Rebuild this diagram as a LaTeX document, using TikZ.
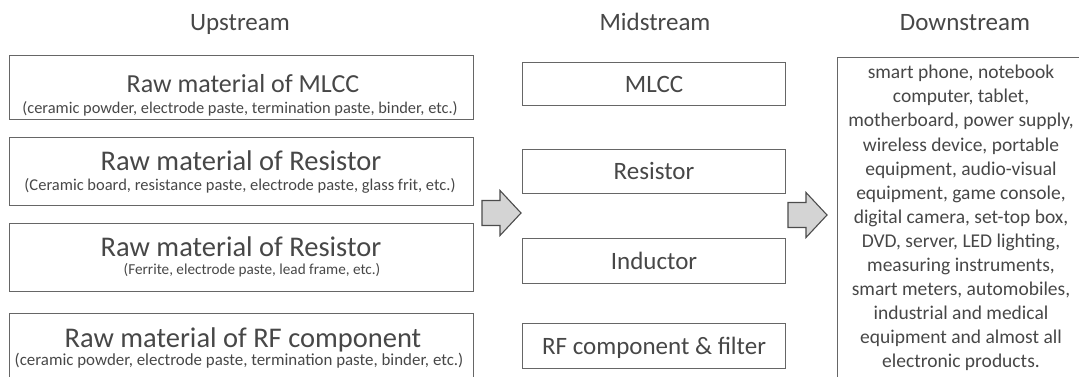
\documentclass[tikz,border=0pt]{standalone}
\usepackage{fontspec}
\setmainfont{Carlito}
\newcommand{\fs}[1]{\fontsize{#1}{#1}\selectfont}
\begin{document}
\begin{tikzpicture}[x=1pt,y=-1pt,
  every node/.style={text=black!72},
  frame/.style={draw=black!60, line width=1.1pt, inner sep=0pt, anchor=north west},
  head/.style={anchor=base, font=\fs{25}},
  ttl/.style={anchor=base, font=\fs{28.5}},
  sub/.style={anchor=base, font=\fs{16.4}},
  mid/.style={frame, font=\fs{25}, text height=16pt, text depth=0pt},
  blockarrow/.style={draw=black!70, line width=1.1pt, fill=black!17, line join=miter}
]
\useasboundingbox (0,0) rectangle (1079,376);
\clip (0,0) rectangle (1079,376);

% column headings
\node[head] (hup)   at (240,30) {Upstream};
\node[head] (hmid)  at (655,30) {Midstream};
\node[head] (hdown) at (965,30) {Downstream};

% upstream: raw materials
\node[frame, minimum width=464, minimum height=64] (u1) at (9,55) {};
\node[ttl, font=\fs{26}] (u1t) at (243,92) {Raw material of MLCC};
\node[sub] (u1s) at (240,113) {(ceramic powder, electrode paste, termination paste, binder, etc.)};

\node[frame, minimum width=464, minimum height=68] (u2) at (9,137) {};
\node[ttl] (u2t) at (241,170) {Raw material of Resistor};
\node[sub, font=\fs{16.5}] (u2s) at (240,190) {(Ceramic board, resistance paste, electrode paste, glass frit, etc.)};

\node[frame, minimum width=464, minimum height=68] (u3) at (9,223) {};
\node[ttl] (u3t) at (241,256) {Raw material of Resistor};
\node[sub, font=\fs{15.2}] (u3s) at (252,274) {(Ferrite, electrode paste, lead frame, etc.)};

\node[frame, minimum width=464, minimum height=70] (u4) at (9,313) {};
\node[ttl] (u4t) at (243,347) {Raw material of RF component};
\node[sub, font=\fs{16.9}] (u4s) at (239,365) {(ceramic powder, electrode paste, termination paste, binder, etc.)};

% midstream: components
\node[mid, minimum width=263, minimum height=43] (m1) at (522,62) {MLCC};
\node[mid, minimum width=263, minimum height=44] (m2) at (522,149) {Resistor};
\node[mid, minimum width=263, minimum height=45] (m3) at (522,238) {Inductor};
\node[mid, minimum width=263, minimum height=45] (m4) at (522,323) {RF component \& filter};

% downstream: applications
\node[frame, minimum width=253, minimum height=330] (d1) at (837,57) {};
\node[anchor=north, align=center, inner sep=0pt,
      font=\fontsize{19.5}{24.1}\selectfont] (d1t) at (961,65)
  {smart phone, notebook\\ computer, tablet,\\ motherboard, power supply,\\
   wireless device, portable\\ equipment, audio-visual\\ equipment, game console,\\
   digital camera, set-top box,\\ DVD, server, LED lighting,\\ measuring instruments,\\
   smart meters, automobiles,\\ industrial and medical\\ equipment and almost all\\
   electronic products.};

% block arrows between the columns
\begin{scope}[shift={(482,213)}]
  \draw[blockarrow] (0,-12.5) -- (18,-12.5) -- (18,-22.5) -- (39,0)
    -- (18,22.5) -- (18,12.5) -- (0,12.5) -- cycle;
\end{scope}
\begin{scope}[shift={(788,215)}]
  \draw[blockarrow] (0,-12.5) -- (18,-12.5) -- (18,-22.5) -- (39,0)
    -- (18,22.5) -- (18,12.5) -- (0,12.5) -- cycle;
\end{scope}
\end{tikzpicture}
\end{document}
